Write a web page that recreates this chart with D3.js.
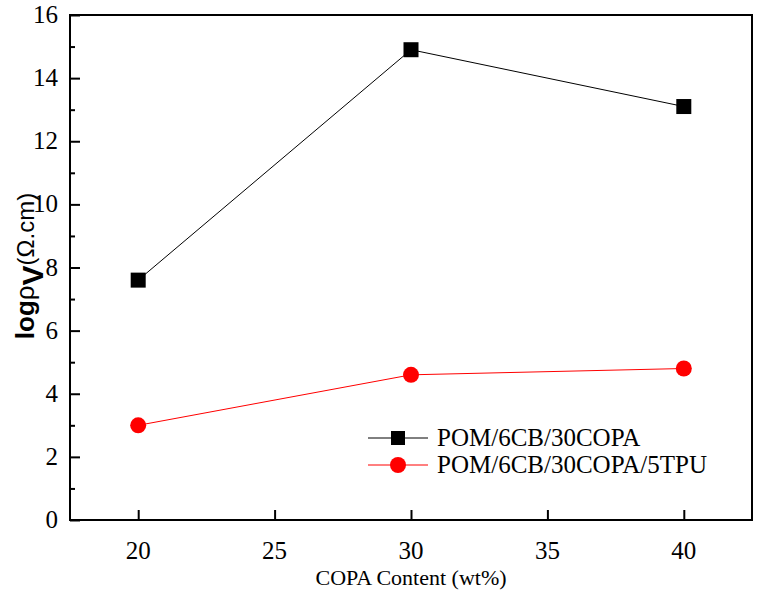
<!DOCTYPE html>
<html><head><meta charset="utf-8">
<script src="https://cdn.jsdelivr.net/npm/d3@7"></script>
<style>body{margin:0;background:#fff}</style>
</head><body>
<script>
const categories = [20, 30, 40];
const seriesNames = ["POM/6CB/30COPA", "POM/6CB/30COPA/5TPU"];
const seriesA = [7.6, 14.9, 13.1];
const seriesB = [3.0, 4.6, 4.8];
const xTicks = [20, 25, 30, 35, 40];
const yTicks = [0, 2, 4, 6, 8, 10, 12, 14, 16];
const yMinorTicks = [1, 3, 5, 7, 9, 11, 13, 15];

const W = 758, H = 595;
const m = {left: 70, right: 6, top: 15, bottom: 75};
const svg = d3.select("body").append("svg").attr("width", W).attr("height", H);
const x = d3.scaleLinear().domain([17.5, 42.5]).range([m.left, W - m.right]);
const y = d3.scaleLinear().domain([0, 16]).range([H - m.bottom, m.top]);
const font = "'Liberation Serif', 'Times New Roman', serif";

// frame
svg.append("rect").attr("x", m.left).attr("y", m.top)
  .attr("width", W - m.right - m.left).attr("height", H - m.bottom - m.top)
  .attr("fill", "none").attr("stroke", "#000").attr("stroke-width", 2);

// x axis ticks
const gx = svg.append("g").attr("transform", `translate(0,${H - m.bottom})`)
  .call(d3.axisBottom(x).tickValues(xTicks).tickSizeInner(-10).tickSizeOuter(0).tickFormat(""));
gx.select(".domain").remove();
gx.selectAll("line").attr("stroke-width", 2);
svg.append("g").selectAll("text").data(xTicks).enter().append("text")
  .attr("style", "font: 25px 'Liberation Serif', serif")
  .attr("x", d => x(d)).attr("y", H - m.bottom + 39).attr("text-anchor", "middle")
  .attr("fill", "#000").text(d => String(d));

// y axis ticks
const gy = svg.append("g").attr("transform", `translate(${m.left},0)`)
  .call(d3.axisLeft(y).tickValues(yTicks).tickSizeInner(-10).tickSizeOuter(0).tickFormat(""));
gy.select(".domain").remove();
gy.selectAll("line").attr("stroke-width", 2);
const gym = svg.append("g").attr("transform", `translate(${m.left},0)`)
  .call(d3.axisLeft(y).tickValues(yMinorTicks).tickSizeInner(-5).tickSizeOuter(0).tickFormat(""));
gym.select(".domain").remove();
gym.selectAll("line").attr("stroke-width", 2);
svg.append("g").selectAll("text").data(yTicks).enter().append("text")
  .attr("style", "font: 25px 'Liberation Serif', serif")
  .attr("x", m.left - 12).attr("y", d => y(d) + 8).attr("text-anchor", "end")
  .attr("fill", "#000").text(d => String(d));

// series
const dataA = categories.map((c, i) => [c, seriesA[i]]);
const dataB = categories.map((c, i) => [c, seriesB[i]]);
const line = d3.line().x(d => x(d[0])).y(d => y(d[1]));
svg.append("path").datum(dataA).attr("d", line).attr("fill", "none").attr("stroke", "#000").attr("stroke-width", 1);
svg.append("path").datum(dataB).attr("d", line).attr("fill", "none").attr("stroke", "#ff0000").attr("stroke-width", 1);
svg.selectAll(".sq").data(dataA).enter().append("rect")
  .attr("x", d => x(d[0]) - 7.5).attr("y", d => y(d[1]) - 7.5).attr("width", 15).attr("height", 15).attr("fill", "#000");
svg.selectAll(".ci").data(dataB).enter().append("circle")
  .attr("cx", d => x(d[0])).attr("cy", d => y(d[1])).attr("r", 8).attr("fill", "#ff0000");

// legend
const lg = svg.append("g");
const legY = [438, 465];
[0, 1].forEach(i => {
  const col = i === 0 ? "#000" : "#ff0000";
  lg.append("line").attr("x1", 368).attr("x2", 428).attr("y1", legY[i]).attr("y2", legY[i]).attr("stroke", col).attr("stroke-width", 1);
  if (i === 0) lg.append("rect").attr("x", 391).attr("y", legY[i] - 7).attr("width", 14).attr("height", 14).attr("fill", col);
  else lg.append("circle").attr("cx", 398).attr("cy", legY[i]).attr("r", 8).attr("fill", col);
  lg.append("text").attr("x", 437).attr("y", legY[i] + 8)
    .attr("font-family", font).attr("font-size", 25).attr("fill", "#000").text(seriesNames[i]);
});

// axis titles
svg.append("text").attr("x", x(30)).attr("y", 585).attr("text-anchor", "middle")
  .attr("font-family", font).attr("font-size", 22).attr("fill", "#000").text("COPA Content (wt%)");

const yt = svg.append("text").attr("transform", `translate(34,266) rotate(-90)`)
  .attr("text-anchor", "middle").attr("font-family", "'Liberation Sans', Arial, sans-serif").attr("font-size", 26).attr("fill", "#000");
yt.append("tspan").attr("font-weight", "bold").text("log");
yt.append("tspan").text("ρ");
yt.append("tspan").attr("font-weight", "bold").attr("dy", 9).attr("font-size", 30).text("V");
yt.append("tspan").attr("dy", -9).attr("font-size", 24).text("(Ω.cm)");
</script>
</body></html>
